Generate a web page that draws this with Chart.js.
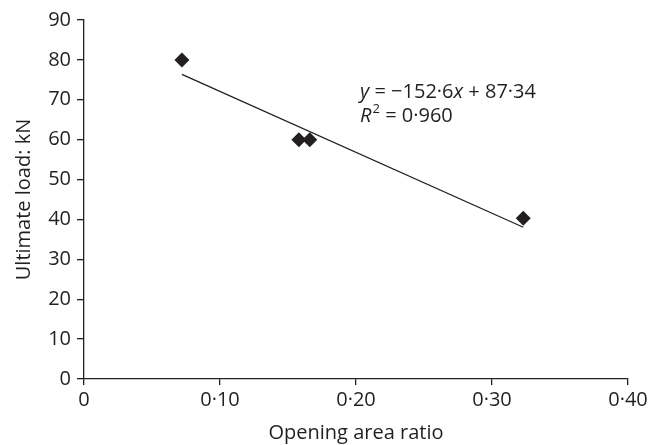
<!DOCTYPE html>
<html>
<head>
<meta charset="utf-8">
<script src="https://cdn.jsdelivr.net/npm/chart.js@4.4.1/dist/chart.umd.min.js"></script>
<style>
  html, body { margin: 0; padding: 0; background: #fff; }
  #wrap { width: 662px; height: 445px; position: relative; }
</style>
</head>
<body>
<div id="wrap"><canvas id="c" width="662" height="445"></canvas></div>
<script>
// ---- data ----
const openingRatio = [0.072, 0.158, 0.166, 0.323];
const ultimateLoad = [80, 60, 60, 40.3];
const trendSlope = -152.6;
const trendIntercept = 87.34;
const rSquared = 0.960;
const xTicks = [0, 0.10, 0.20, 0.30, 0.40];
const yTicks = [0, 10, 20, 30, 40, 50, 60, 70, 80, 90];

const INK = '#231f20';
const FONT = "'Open Sans', 'DejaVu Sans', sans-serif";

const points = openingRatio.map((x, i) => ({ x: x, y: ultimateLoad[i] }));
const xMin = Math.min(...openingRatio), xMax = Math.max(...openingRatio);
const trend = [xMin, xMax].map(x => ({ x: x, y: trendSlope * x + trendIntercept }));

function fmtDot(v, digits) { return v.toFixed(digits).replace('.', '\u00B7'); }

const eqPlugin = {
  id: 'eq',
  afterDraw(chart) {
    const { ctx, scales } = chart;
    const x0 = scales.x.getPixelForValue(0.203);
    const y1 = scales.y.getPixelForValue(72.0);
    const y2 = y1 + 24;
    const size = 20;
    ctx.save();
    ctx.fillStyle = INK;
    ctx.textBaseline = 'middle';
    ctx.textAlign = 'left';
    const runs1 = [
      ['y', true], [' = \u2212' + fmtDot(-trendSlope, 1), false], ['x', true],
      [' + ' + fmtDot(trendIntercept, 2), false]
    ];
    let x = x0;
    runs1.forEach(([t, it]) => {
      ctx.font = (it ? 'italic ' : '') + size + 'px ' + FONT;
      ctx.fillText(t, x, y1);
      x += ctx.measureText(t).width;
    });
    x = x0;
    ctx.font = 'italic ' + size + 'px ' + FONT;
    ctx.fillText('R', x, y2);
    x += ctx.measureText('R').width;
    ctx.font = '13px ' + FONT;
    ctx.fillText('2', x + 1, y2 - 7);
    x += ctx.measureText('2').width + 1;
    ctx.font = size + 'px ' + FONT;
    ctx.fillText(' = ' + fmtDot(rSquared, 3), x, y2);
    ctx.restore();
  }
};

new Chart(document.getElementById('c'), {
  type: 'scatter',
  data: {
    datasets: [
      {
        label: 'Data',
        data: points,
        pointStyle: 'rectRot',
        pointRadius: 7.5,
        pointHoverRadius: 7.5,
        backgroundColor: INK,
        borderColor: INK,
        borderWidth: 0,
        order: 1
      },
      {
        label: 'Trend',
        type: 'line',
        data: trend,
        borderColor: INK,
        borderWidth: 1.3,
        pointRadius: 0,
        fill: false,
        order: 2
      }
    ]
  },
  options: {
    responsive: false,
    animation: false,
    layout: { padding: { left: 0, right: 34, top: 20, bottom: 0 } },
    plugins: { legend: { display: false }, tooltip: { enabled: false } },
    scales: {
      x: {
        type: 'linear',
        min: 0, max: 0.40,
        afterBuildTicks: s => { s.ticks = xTicks.map(v => ({ value: v })); },
        afterFit: s => { s.height = 66; },
        border: { color: INK, width: 1.3 },
        grid: { drawOnChartArea: false, drawTicks: true, tickLength: 6, color: INK, lineWidth: 1.3 },
        ticks: {
          color: INK, padding: 3,
          font: { family: FONT, size: 20 },
          callback: v => v === 0 ? '0' : fmtDot(v, 2)
        },
        title: {
          display: true, text: 'Opening area ratio', color: INK,
          font: { family: FONT, size: 20 }, padding: { top: 0, bottom: 0 }
        }
      },
      y: {
        type: 'linear',
        min: 0, max: 90,
        afterBuildTicks: s => { s.ticks = yTicks.map(v => ({ value: v })); },
        afterFit: s => { s.width = 84; },
        border: { color: INK, width: 1.3 },
        grid: { drawOnChartArea: false, drawTicks: true, tickLength: 7, color: INK, lineWidth: 1.3 },
        ticks: {
          color: INK, padding: 6,
          font: { family: FONT, size: 20 },
          callback: v => String(v)
        },
        title: {
          display: true, text: 'Ultimate load: kN', color: INK,
          font: { family: FONT, size: 20 }, padding: { top: 12, bottom: 0 }
        }
      }
    }
  },
  plugins: [eqPlugin]
});
</script>
</body>
</html>
